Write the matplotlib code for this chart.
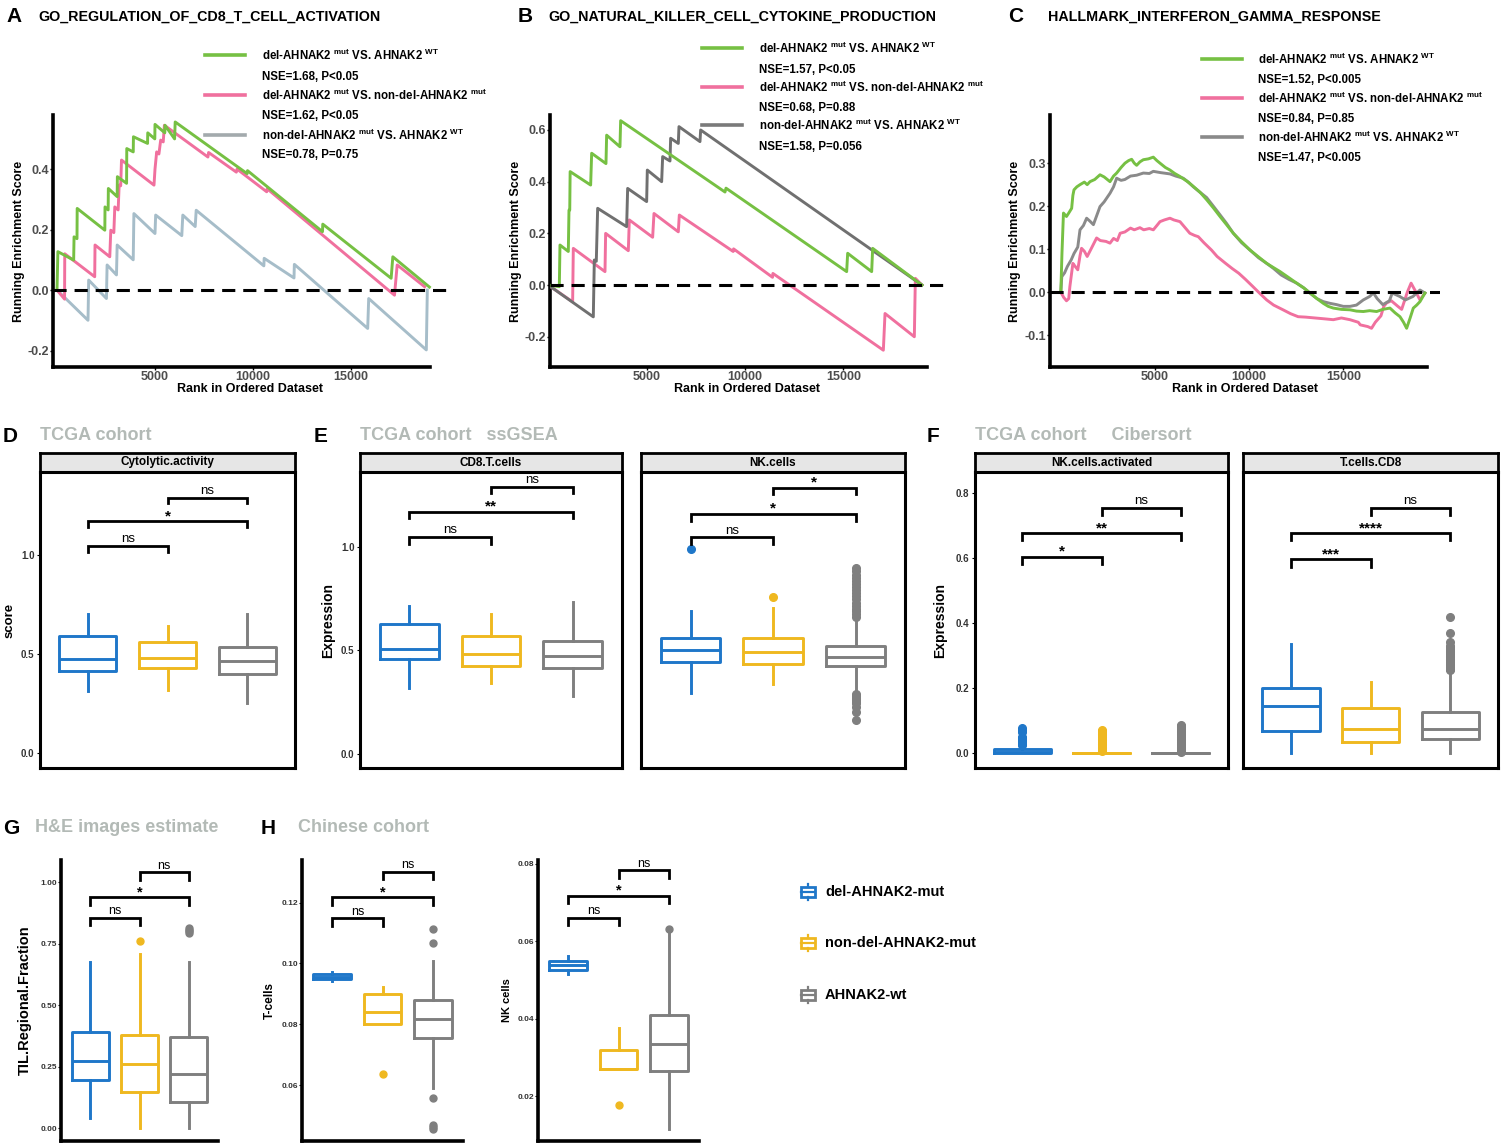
import matplotlib
matplotlib.use('Agg')
import matplotlib.pyplot as plt
from matplotlib.patches import Rectangle

plt.rcParams['font.family'] = ['Liberation Sans', 'DejaVu Sans']
plt.rcParams['mathtext.fontset'] = 'custom'
plt.rcParams['mathtext.rm'] = 'Liberation Sans'
plt.rcParams['mathtext.default'] = 'regular'

W, H = 1501, 1143

# ---------------- data ----------------
gsea_titles = ['GO_REGULATION_OF_CD8_T_CELL_ACTIVATION',
               'GO_NATURAL_KILLER_CELL_CYTOKINE_PRODUCTION',
               'HALLMARK_INTERFERON_GAMMA_RESPONSE']
comparisons = [r'del-AHNAK2 $^{mut}$ VS. AHNAK2 $^{WT}$',
               r'del-AHNAK2 $^{mut}$ VS. non-del-AHNAK2 $^{mut}$',
               r'non-del-AHNAK2 $^{mut}$ VS. AHNAK2 $^{WT}$']
nse_A = ['NSE=1.68, P<0.05', 'NSE=1.62, P<0.05', 'NSE=0.78, P=0.75']
nse_B = ['NSE=1.57, P<0.05', 'NSE=0.68, P=0.88', 'NSE=1.58, P=0.056']
nse_C = ['NSE=1.52, P<0.005', 'NSE=0.84, P=0.85', 'NSE=1.47, P<0.005']

# running enrichment score curves (rank, ES)
a_green = [(0, 0.0), (45, 0.127), (850, 0.099), (870, 0.176), (1020, 0.170), (1030, 0.27),
           (2440, 0.198), (2450, 0.275), (2610, 0.265), (2620, 0.336), (3070, 0.309),
           (3080, 0.375), (3550, 0.353), (3560, 0.468), (3890, 0.457), (3900, 0.507),
           (4620, 0.485), (4630, 0.52), (4990, 0.50), (5000, 0.548), (5500, 0.52),
           (5510, 0.545), (6000, 0.50), (6030, 0.556), (9700, 0.385), (9720, 0.395),
           (13545, 0.193), (13560, 0.218), (17048, 0.039), (17134, 0.11), (19000, 0.01)]
a_pink = [(0, 0.0), (386, -0.03), (396, 0.12), (1924, 0.044), (1940, 0.149), (2693, 0.11),
          (2744, 0.198), (2900, 0.19), (2949, 0.275), (3120, 0.265), (3171, 0.347),
          (3250, 0.345), (3291, 0.43), (4949, 0.347), (5000, 0.40), (5085, 0.457),
          (5200, 0.45), (5290, 0.496), (5420, 0.49), (5479, 0.545), (7700, 0.44),
          (7734, 0.455), (9150, 0.39), (9187, 0.40), (10700, 0.325), (10725, 0.335),
          (17219, -0.017), (17356, 0.083), (18757, 0.011)]
a_gray = [(0, 0.0), (1582, -0.1), (1616, 0.033), (2522, -0.028), (2556, 0.083),
          (3035, 0.05), (3069, 0.149), (3889, 0.10), (3923, 0.253), (5000, 0.187),
          (5034, 0.248), (6367, 0.18), (6418, 0.248), (7051, 0.21), (7102, 0.264),
          (10554, 0.08), (10570, 0.105), (12092, 0.04), (12110, 0.085), (15852, -0.127),
          (15903, -0.028), (18843, -0.198), (18894, 0.0)]

b_green = [(0, 0.0), (560, -0.006), (593, 0.155), (1017, 0.13), (1051, 0.29), (1090, 0.29),
           (1110, 0.439), (2153, 0.387), (2204, 0.51), (2932, 0.47), (2966, 0.58),
           (3644, 0.535), (3678, 0.636), (8984, 0.36), (9035, 0.375), (15170, 0.052),
           (15221, 0.123), (16442, 0.052), (16492, 0.142), (19000, 0.0)]
b_pink = [(0, 0.0), (1237, -0.065), (1271, 0.142), (2882, 0.052), (2915, 0.2), (4068, 0.133),
          (4119, 0.252), (5305, 0.185), (5373, 0.277), (6610, 0.206), (6661, 0.271),
          (9400, 0.13), (9420, 0.14), (11400, 0.03), (11420, 0.045), (17035, -0.252),
          (17120, -0.11), (18611, -0.2), (18662, 0.026), (19000, 0.0)]
b_gray = [(0, 0.0), (2288, -0.123), (2339, 0.097), (2440, 0.092), (2509, 0.297),
          (3983, 0.226), (4034, 0.374), (5000, 0.323), (5034, 0.445), (5763, 0.40),
          (5814, 0.497), (6187, 0.48), (6220, 0.568), (6610, 0.548), (6644, 0.613),
          (7712, 0.555), (7746, 0.60), (19000, 0.0)]

c_green = [(0, 0.0), (60, 0.09), (140, 0.184), (300, 0.176), (420, 0.184), (575, 0.195),
           (640, 0.225), (699, 0.238), (850, 0.245), (1018, 0.25), (1250, 0.256),
           (1400, 0.25), (1549, 0.257), (1800, 0.262), (2080, 0.273), (2300, 0.268),
           (2611, 0.257), (2800, 0.27), (2965, 0.277), (3200, 0.29), (3407, 0.30),
           (3600, 0.306), (3761, 0.309), (3900, 0.30), (4027, 0.295), (4200, 0.303),
           (4381, 0.308), (4650, 0.31), (4912, 0.314), (5100, 0.306), (5266, 0.30),
           (5550, 0.29), (5797, 0.284), (6050, 0.276), (6328, 0.269), (6700, 0.258),
           (7036, 0.246), (7400, 0.232), (7744, 0.215), (8100, 0.196), (8452, 0.176),
           (8800, 0.157), (9160, 0.137), (9600, 0.117), (10045, 0.098), (10500, 0.082),
           (10930, 0.067), (11300, 0.057), (11638, 0.048), (12100, 0.034), (12523, 0.021),
           (12900, 0.01), (13231, -0.002), (13600, -0.015), (13939, -0.026), (14200, -0.033),
           (14470, -0.037), (14900, -0.04), (15355, -0.041), (15700, -0.044), (16063, -0.045),
           (16400, -0.043), (16771, -0.045), (17100, -0.04), (17479, -0.037), (17750, -0.048),
           (18010, -0.057), (18200, -0.07), (18364, -0.084), (18550, -0.06), (18718, -0.037),
           (18900, -0.03), (19072, -0.022), (19337, -0.002)]
c_pink = [(0, 0.0), (150, -0.012), (300, -0.02), (420, -0.015), (480, 0.013), (560, 0.04),
          (640, 0.067), (760, 0.06), (900, 0.052), (1020, 0.085), (1100, 0.102), (1250, 0.095),
          (1400, 0.083), (1600, 0.10), (1900, 0.126), (2100, 0.12), (2400, 0.118),
          (2611, 0.114), (2800, 0.125), (3000, 0.12), (3150, 0.137), (3400, 0.14),
          (3700, 0.149), (3900, 0.145), (4200, 0.15), (4400, 0.145), (4700, 0.148),
          (4912, 0.145), (5100, 0.155), (5266, 0.164), (5500, 0.168), (5797, 0.172),
          (6000, 0.168), (6328, 0.164), (6600, 0.15), (6850, 0.137), (7100, 0.132),
          (7300, 0.129), (7600, 0.115), (8000, 0.098), (8300, 0.083), (8750, 0.067),
          (9100, 0.055), (9450, 0.044), (9800, 0.03), (10200, 0.013), (10500, 0.0),
          (10930, -0.018), (11300, -0.03), (11800, -0.041), (12200, -0.05), (12600, -0.057),
          (13000, -0.058), (13500, -0.06), (14000, -0.062), (14470, -0.064), (14900, -0.06),
          (15355, -0.064), (15800, -0.07), (15900, -0.076), (16300, -0.08), (16500, -0.084),
          (16700, -0.07), (17000, -0.055), (17150, -0.033), (17300, -0.025), (17550, -0.02),
          (17900, -0.033), (18100, -0.04), (18400, 0.0), (18600, 0.021), (18800, 0.005),
          (19072, -0.018), (19337, -0.002)]
c_gray = [(0, 0.0), (50, 0.036), (200, 0.045), (350, 0.06), (550, 0.075), (700, 0.09),
          (900, 0.105), (1018, 0.145), (1200, 0.155), (1370, 0.172), (1549, 0.165),
          (1730, 0.157), (2080, 0.199), (2300, 0.21), (2611, 0.23), (2800, 0.245),
          (2965, 0.265), (3200, 0.26), (3400, 0.262), (3700, 0.27), (4027, 0.272),
          (4381, 0.277), (4700, 0.276), (4912, 0.281), (5300, 0.278), (5797, 0.275),
          (6100, 0.27), (6500, 0.265), (6800, 0.255), (7036, 0.245), (7400, 0.232),
          (7744, 0.22), (8100, 0.20), (8452, 0.18), (8800, 0.16), (9160, 0.137),
          (9600, 0.115), (10045, 0.098), (10500, 0.08), (10930, 0.067), (11300, 0.055),
          (11700, 0.04), (12100, 0.03), (12523, 0.021), (12900, 0.01), (13231, -0.002),
          (13600, -0.015), (13939, -0.022), (14300, -0.026), (14650, -0.029), (15000, -0.033),
          (15355, -0.033), (15700, -0.03), (16063, -0.018), (16400, -0.01), (16600, -0.002),
          (16800, -0.015), (17100, -0.029), (17450, -0.02), (17600, -0.002), (18000, -0.01),
          (18300, -0.018), (18700, -0.01), (19072, 0.005), (19337, -0.002)]

groups = ['del-AHNAK2-mut', 'non-del-AHNAK2-mut', 'AHNAK2-wt']
pairs = [(1, 2), (1, 3), (2, 3)]

# box stats per group: (whislo, q1, med, q3, whishi)
cyto_stats = [(0.315, 0.416, 0.475, 0.59, 0.70), (0.318, 0.428, 0.48, 0.559, 0.643),
              (0.254, 0.40, 0.463, 0.534, 0.70)]
cyto_fliers = [[], [], []]
cyto_sig = ['ns', '*', 'ns']
cyto_sig_y = [1.047, 1.172, 1.29]

cd8_stats = [(0.317, 0.457, 0.508, 0.626, 0.714), (0.344, 0.423, 0.484, 0.571, 0.675),
             (0.281, 0.415, 0.471, 0.547, 0.733)]
cd8_fliers = [[], [], []]
cd8_sig = ['ns', '**', 'ns']
cd8_sig_y = [1.048, 1.169, 1.29]

nk_stats = [(0.293, 0.445, 0.502, 0.561, 0.691), (0.338, 0.434, 0.494, 0.558, 0.706),
            (0.296, 0.425, 0.469, 0.521, 0.646)]
nk_fliers = [[0.987], [0.756],
             [0.66, 0.675, 0.69, 0.70, 0.715, 0.73, 0.745, 0.76, 0.775, 0.79, 0.805, 0.82,
              0.835, 0.85, 0.865, 0.88, 0.895, 0.288, 0.28, 0.272, 0.265, 0.258, 0.25,
              0.244, 0.225, 0.204, 0.165]]
nk_sig = ['ns', '*', '*']
nk_sig_y = [1.045, 1.158, 1.285]

nka_stats = [(0.0, 0.001, 0.004, 0.012, 0.022), (0.0, 0.0, 0.0, 0.0015, 0.003),
             (0.0, 0.0, 0.0, 0.001, 0.002)]
nka_fliers = [[0.026, 0.03, 0.034, 0.037, 0.04, 0.043, 0.046, 0.05, 0.066, 0.072, 0.077],
              [0.006, 0.01, 0.015, 0.02, 0.025, 0.03, 0.035, 0.04, 0.045, 0.05, 0.055, 0.06,
               0.065, 0.07, 0.073],
              [0.004, 0.008, 0.012, 0.016, 0.02, 0.025, 0.03, 0.035, 0.04, 0.045, 0.05, 0.055,
               0.06, 0.065, 0.07, 0.075, 0.08, 0.084, 0.088]]
nka_sig = ['*', '**', 'ns']
nka_sig_y = [0.603, 0.675, 0.753]

tcd8_stats = [(0.002, 0.069, 0.145, 0.201, 0.334), (0.002, 0.035, 0.0745, 0.138, 0.22),
              (0.002, 0.0427, 0.0745, 0.126, 0.245)]
tcd8_fliers = [[], [],
               [0.255, 0.26, 0.265, 0.27, 0.275, 0.28, 0.285, 0.29, 0.295, 0.30, 0.305, 0.31,
                0.315, 0.32, 0.325, 0.33, 0.34, 0.37, 0.417]]
tcd8_sig = ['***', '****', 'ns']
tcd8_sig_y = [0.595, 0.675, 0.753]

til_stats = [(0.04, 0.196, 0.275, 0.393, 0.677), (0.0, 0.149, 0.26, 0.379, 0.707),
             (0.0, 0.108, 0.221, 0.371, 0.677)]
til_fliers = [[], [0.759], [0.795, 0.80, 0.805, 0.813]]
til_sig = ['ns', '*', 'ns']
til_sig_y = [0.854, 0.939, 1.04]

tcell_stats = [(0.0943, 0.0948, 0.0956, 0.0965, 0.0972), (0.080, 0.080, 0.0839, 0.0901, 0.0923),
               (0.0589, 0.0754, 0.0818, 0.0879, 0.1009)]
tcell_fliers = [[], [0.0636], [0.1113, 0.1066, 0.0559, 0.0468, 0.0462, 0.0457]]
tcell_sig = ['ns', '*', 'ns']
tcell_sig_y = [0.1148, 0.1217, 0.1301]

nkcell_stats = [(0.0516, 0.0525, 0.0538, 0.055, 0.0561), (0.027, 0.027, 0.027, 0.032, 0.0376),
                (0.0115, 0.0264, 0.0335, 0.041, 0.0625)]
nkcell_fliers = [[], [0.0178], [0.0633]]
nkcell_sig = ['ns', '*', 'ns']
nkcell_sig_y = [0.066, 0.0718, 0.0783]

box_colors = ['#1f77c9', '#efb820', '#7f7f7f']
title_gray = '#b3bab6'


def box(l, t, r, b):
    return [l / W, 1 - b / H, (r - l) / W, (b - t) / H]


fig = plt.figure(figsize=(W / 100, H / 100), dpi=100)


# ---------------- GSEA panels ----------------
def gsea(rect, curves, colors, xlim, ylim, yticks, spine_end):
    ax = fig.add_axes(rect)
    for pts, c in zip(curves, colors):
        ax.plot([p[0] for p in pts], [p[1] for p in pts], color=c, lw=2.1, zorder=3)
    ax.axhline(0, color='black', lw=2.2, dashes=(4.3, 2.6), zorder=4)
    ax.set_xlim(*xlim)
    ax.set_ylim(*ylim)
    for s in ['top', 'right']:
        ax.spines[s].set_visible(False)
    for s in ['left', 'bottom']:
        ax.spines[s].set_linewidth(2.6)
    ax.spines['bottom'].set_bounds(xlim[0], spine_end)
    ax.set_xticks([5000, 10000, 15000])
    ax.set_yticks(yticks)
    ax.set_yticklabels(['%.1f' % v for v in yticks])
    ax.tick_params(length=2, width=1, labelsize=9, labelcolor='#4d4d4d', pad=1)
    for lab in ax.get_xticklabels() + ax.get_yticklabels():
        lab.set_fontweight('bold')
    ax.set_xlabel('Rank in Ordered Dataset', fontsize=9, fontweight='bold', labelpad=0)
    ax.set_ylabel('Running Enrichment Score', fontsize=9, fontweight='bold', labelpad=2)
    ax.patch.set_alpha(0)
    return ax


green, pink = '#76c043', '#f0709e'
gsea(box(53, 115, 447, 367), [a_gray, a_pink, a_green], ['#a6bdc9', pink, green],
     (-204, 19898), (-0.2545, 0.579), [-0.2, 0.0, 0.2, 0.4], 19030)
gsea(box(550, 115, 945, 367), [b_pink, b_gray, b_green], [pink, '#707070', green],
     (86, 20170), (-0.317, 0.658), [-0.2, 0.0, 0.2, 0.4, 0.6], 19238)
gsea(box(1050, 115, 1440, 367), [c_pink, c_gray, c_green], [pink, '#8a8a8a', green],
     (-575, 20136), (-0.174, 0.412), [-0.1, 0.0, 0.1, 0.2, 0.3], 19425)


# ---------------- box plot helpers ----------------
def draw_boxes(ax, stats, fliers, width, msize):
    bx = [dict(whislo=s[0], q1=s[1], med=s[2], q3=s[3], whishi=s[4], fliers=f)
          for s, f in zip(stats, fliers)]
    art = ax.bxp(bx, positions=[1, 2, 3], widths=width, showcaps=False,
                 manage_ticks=False)
    for i, c in enumerate(box_colors):
        art['boxes'][i].set(color=c, lw=2.1)
        art['medians'][i].set(color=c, lw=2.1)
        art['whiskers'][2 * i].set(color=c, lw=2.1)
        art['whiskers'][2 * i + 1].set(color=c, lw=2.1)
        art['fliers'][i].set(marker='o', markerfacecolor=c, markeredgecolor=c,
                             markersize=msize)
    ax.set_xlim(0.4, 3.6)
    ax.set_xticks([])


def brackets(ax, ys, labels, drop, fs):
    for (i, j), y, lab in zip(pairs, ys, labels):
        ax.plot([i, i, j, j], [y - drop, y, y, y - drop], color='black', lw=2,
                solid_joinstyle='miter', clip_on=False)
        if '*' in lab:
            ax.annotate(lab, ((i + j) / 2, y), xytext=(0, -1.5), textcoords='offset points',
                        ha='center', va='bottom', fontsize=fs + 1.5, fontweight='bold')
        else:
            ax.annotate(lab, ((i + j) / 2, y), xytext=(0, 0.5), textcoords='offset points',
                        ha='center', va='bottom', fontsize=fs)


def facet(l, r, strip, ylim, yticks, ticklabels):
    sax = fig.add_axes(box(l, 453, r, 472))
    sax.set_facecolor('#e6e6e6')
    sax.set_xticks([])
    sax.set_yticks([])
    for s in sax.spines.values():
        s.set_linewidth(2)
    sax.text(0.5, 0.5, strip, ha='center', va='center', fontsize=8.5, fontweight='bold',
             transform=sax.transAxes)
    ax = fig.add_axes(box(l, 472, r, 768))
    for s in ax.spines.values():
        s.set_linewidth(2.2)
    ax.set_ylim(*ylim)
    ax.set_yticks(yticks)
    if ticklabels:
        ax.set_yticklabels(ticklabels)
        ax.tick_params(axis='y', length=2, labelsize=7, labelcolor='#333333', pad=2)
        for lab in ax.get_yticklabels():
            lab.set_fontweight('bold')
    else:
        ax.tick_params(axis='y', length=0, labelleft=False)
    return ax


def simple(rect, ylim, yticks, ticklabels):
    ax = fig.add_axes(rect)
    for s in ['top', 'right']:
        ax.spines[s].set_visible(False)
    for s in ['left', 'bottom']:
        ax.spines[s].set_linewidth(2.6)
    ax.set_ylim(*ylim)
    ax.set_yticks(yticks)
    ax.set_yticklabels(ticklabels)
    ax.tick_params(axis='y', length=2, labelsize=6, labelcolor='#333333', pad=1)
    for lab in ax.get_yticklabels():
        lab.set_fontweight('bold')
    ax.patch.set_alpha(0)
    return ax


# D
ax = facet(40, 295, 'Cytolytic.activity', (-0.076, 1.419), [0, 0.5, 1.0], ['0.0', '0.5', '1.0'])
draw_boxes(ax, cyto_stats, cyto_fliers, 0.72, 5.5)
brackets(ax, cyto_sig_y, cyto_sig, 0.03, 9.5)
ax.set_ylabel('score', fontsize=9.5, fontweight='bold', labelpad=4)

# E
ax = facet(360, 622, 'CD8.T.cells', (-0.068, 1.36), [0, 0.5, 1.0], ['0.0', '0.5', '1.0'])
draw_boxes(ax, cd8_stats, cd8_fliers, 0.72, 5.5)
brackets(ax, cd8_sig_y, cd8_sig, 0.033, 9.5)
ax.set_ylabel('Expression', fontsize=10, fontweight='bold', labelpad=4)
ax = facet(641, 905, 'NK.cells', (-0.068, 1.36), [0, 0.5, 1.0], None)
draw_boxes(ax, nk_stats, nk_fliers, 0.72, 5.5)
brackets(ax, nk_sig_y, nk_sig, 0.033, 9.5)

# F
fticks = [0, 0.2, 0.4, 0.6, 0.8]
ax = facet(975, 1228, 'NK.cells.activated', (-0.045, 0.863), fticks,
           ['0.0', '0.2', '0.4', '0.6', '0.8'])
draw_boxes(ax, nka_stats, nka_fliers, 0.72, 5.5)
brackets(ax, nka_sig_y, nka_sig, 0.022, 9.5)
ax.set_ylabel('Expression', fontsize=10, fontweight='bold', labelpad=6)
ax = facet(1243, 1498, 'T.cells.CD8', (-0.045, 0.863), fticks, None)
draw_boxes(ax, tcd8_stats, tcd8_fliers, 0.72, 5.5)
brackets(ax, tcd8_sig_y, tcd8_sig, 0.022, 9.5)

# G
ax = simple(box(61, 860, 218, 1141), (-0.052, 1.09), [0, 0.25, 0.5, 0.75, 1.0],
            ['0.00', '0.25', '0.50', '0.75', '1.00'])
draw_boxes(ax, til_stats, til_fliers, 0.75, 5)
brackets(ax, til_sig_y, til_sig, 0.03, 9)
ax.set_ylabel('TIL.Regional.Fraction', fontsize=10.5, fontweight='bold', labelpad=6)

# H
ax = simple(box(302, 860, 463, 1141), (0.0416, 0.134), [0.06, 0.08, 0.10, 0.12],
            ['0.06', '0.08', '0.10', '0.12'])
draw_boxes(ax, tcell_stats, tcell_fliers, 0.75, 5)
brackets(ax, tcell_sig_y, tcell_sig, 0.0024, 9)
ax.set_ylabel('T-cells', fontsize=8.5, fontweight='bold', labelpad=4)

ax = simple(box(538, 860, 699, 1141), (0.0084, 0.081), [0.02, 0.04, 0.06, 0.08],
            ['0.02', '0.04', '0.06', '0.08'])
draw_boxes(ax, nkcell_stats, nkcell_fliers, 0.75, 5)
brackets(ax, nkcell_sig_y, nkcell_sig, 0.0019, 9)
ax.set_ylabel('NK cells', fontsize=8, fontweight='bold', labelpad=4)

# ---------------- overlay: titles, legends ----------------
ov = fig.add_axes([0, 0, 1, 1])
ov.set_xlim(0, W)
ov.set_ylim(H, 0)
ov.axis('off')

for x, lab in [(6, 'A'), (518, 'B'), (1008, 'C')]:
    ov.text(x, 17, lab, fontsize=15, fontweight='bold', va='center')
for x, t in zip([38, 548, 1048], gsea_titles):
    ov.text(x, 17, t, fontsize=10.3, fontweight='bold', va='center')

leg_cols = {'A': [green, pink, '#a3aaad'], 'B': [green, pink, '#7a7a7a'],
            'C': [green, pink, '#8a8a8a']}
for key, x0, x1, tx, ys, nys, nse in [
        ('A', 205, 245, 262, [55, 95, 135], [77, 116, 155], nse_A),
        ('B', 702, 742, 759, [48, 87, 125], [70, 108, 147], nse_B),
        ('C', 1202, 1242, 1258, [59, 98, 137], [80, 119, 158], nse_C)]:
    for i in range(3):
        ov.plot([x0, x1], [ys[i], ys[i]], color=leg_cols[key][i], lw=2.6)
        ov.text(tx, ys[i], comparisons[i], fontsize=8.3, fontweight='bold', va='center')
        ov.text(tx, nys[i], nse[i], fontsize=8.3, fontweight='bold', va='center')

for x, lab, tx, title, y in [(3, 'D', 40, 'TCGA cohort', 436),
                             (314, 'E', 360, 'TCGA cohort   ssGSEA', 436),
                             (927, 'F', 975, 'TCGA cohort     Cibersort', 436),
                             (3, 'G', 35, 'H&E images estimate', 828),
                             (261, 'H', 298, 'Chinese cohort', 828)]:
    ov.text(x, y, lab, fontsize=15, fontweight='bold', va='center')
    ov.text(tx, y, title, fontsize=13, fontweight='bold', color=title_gray, va='center')

for g, c, y in zip(groups, box_colors, [892, 943, 995]):
    ov.add_patch(Rectangle((801, y - 5), 14, 10, fill=False, ec=c, lw=2))
    ov.plot([801, 815], [y, y], color=c, lw=1.6)
    ov.plot([808, 808], [y - 8, y - 5], color=c, lw=1.6)
    ov.plot([808, 808], [y + 5, y + 8], color=c, lw=1.6)
    ov.text(825, y, g, fontsize=10.5, fontweight='bold', va='center')

fig.savefig('out.png', dpi=100)
